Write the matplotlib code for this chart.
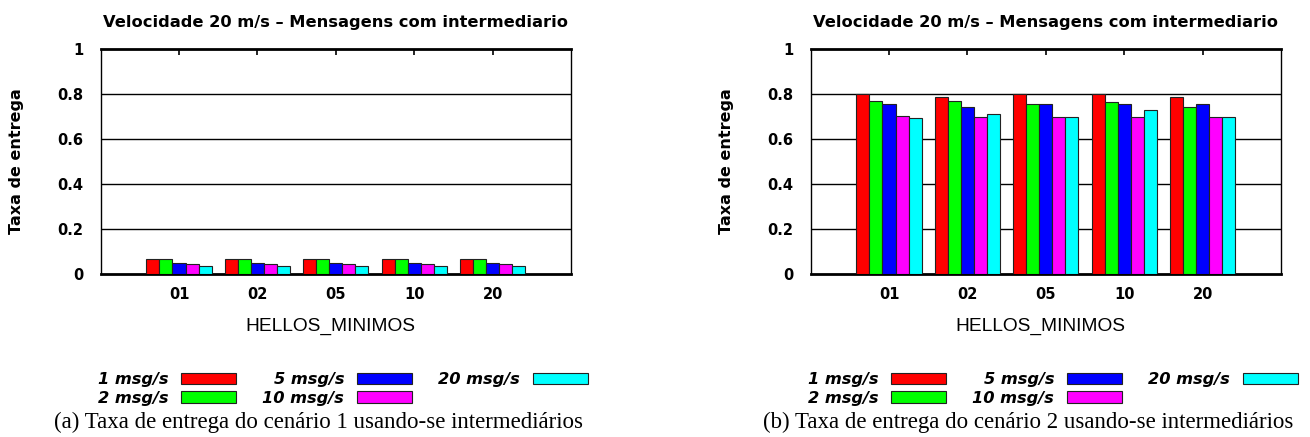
import matplotlib
matplotlib.use("Agg")
import matplotlib.pyplot as plt
import numpy as np

categories = ["01", "02", "05", "10", "20"]
series_labels = ["1 msg/s", "2 msg/s", "5 msg/s", "10 msg/s", "20 msg/s"]
colors = ["#ff0000", "#00ff00", "#0000ff", "#ff00ff", "#00ffff"]

# scenario 1 (left) : one list per series, values per category
s1_1 = [0.066, 0.066, 0.066, 0.066, 0.066]
s1_2 = [0.066, 0.066, 0.066, 0.066, 0.066]
s1_5 = [0.051, 0.051, 0.051, 0.051, 0.051]
s1_10 = [0.043, 0.043, 0.043, 0.043, 0.043]
s1_20 = [0.035, 0.035, 0.035, 0.035, 0.035]

# scenario 2 (right)
s2_1 = [0.798, 0.786, 0.798, 0.798, 0.786]
s2_2 = [0.771, 0.771, 0.756, 0.765, 0.741]
s2_5 = [0.756, 0.741, 0.756, 0.756, 0.756]
s2_10 = [0.702, 0.700, 0.700, 0.700, 0.700]
s2_20 = [0.695, 0.710, 0.700, 0.727, 0.700]

title = "Velocidade 20 m/s \u2013 Mensagens com intermediario"
ylabel = "Taxa de entrega"
xlabel = "HELLOS_MINIMOS"
captions = ["(a) Taxa de entrega do cen\u00e1rio 1 usando-se intermedi\u00e1rios",
            "(b) Taxa de entrega do cen\u00e1rio 2 usando-se intermedi\u00e1rios"]

W, H = 1310, 437
fig = plt.figure(figsize=(W / 100, H / 100), dpi=100)

FX0, FX1 = 100.6, 571.0   # frame left/right (px) of the first panel
FY1, FY0 = 49.0, 274.0    # frame top / bottom (px)
OFFSET = 710.0            # horizontal shift of the second panel


def fx(px):
    return px / W


def fy(py):
    return 1 - py / H


def draw(dx, series, caption):
    ax = fig.add_axes([fx(FX0 + dx), fy(FY0), (FX1 - FX0) / W, (FY0 - FY1) / H])
    x = np.arange(len(categories))
    bw = 1.0 / 6
    handles = []
    for i, vals in enumerate(series):
        offs = (i - 2) * bw
        b = ax.bar(x + offs, vals, width=bw, color=colors[i], edgecolor="#222222",
                   linewidth=0.8, zorder=3, label=series_labels[i])
        handles.append(b)
    ax.set_xlim(-1, 5)
    ax.set_ylim(0, 1)
    ax.set_yticks([0, 0.2, 0.4, 0.6, 0.8, 1])
    ax.set_yticklabels(["0", "0.2", "0.4", "0.6", "0.8", "1"])
    ax.set_xticks(x)
    ax.set_xticklabels(categories)
    for yv in [0.2, 0.4, 0.6, 0.8]:
        ax.axhline(yv, color="black", linewidth=1.0, zorder=1)
    ax.tick_params(axis="x", direction="in", top=True, bottom=False, length=4,
                   width=1.2, pad=9.5, labelsize=10.5)
    ax.tick_params(axis="y", direction="in", left=False, right=False, length=0,
                   pad=12.5, labelsize=10.5)
    for lbl in ax.get_xticklabels() + ax.get_yticklabels():
        lbl.set_fontweight("bold")
        lbl.set_family("DejaVu Sans")
    for s in ["left", "right"]:
        ax.spines[s].set_linewidth(1.0)
    for s in ["top", "bottom"]:
        ax.spines[s].set_linewidth(2.0)

    cx = (FX0 + FX1) / 2 + dx
    fig.text(fx(cx), fy(22), title, ha="center", va="center",
             fontsize=11.7, fontweight="bold")
    fig.text(fx(16.5 + dx), fy((FY0 + FY1) / 2), ylabel, rotation=90,
             ha="center", va="center", fontsize=11.5, fontweight="bold")
    fig.text(fx(330 + dx), fy(326), xlabel, ha="center", va="center",
             fontsize=13.8, family="Liberation Sans")
    fig.legend(handles=handles, labels=series_labels, ncol=3,
               loc="center", bbox_to_anchor=(fx(343 + dx), fy(389)),
               markerfirst=False, frameon=False, handlelength=3.4,
               handleheight=0.7, columnspacing=1.6, labelspacing=0.2,
               handletextpad=0.8, borderpad=0, borderaxespad=0,
               prop={"size": 11.7, "weight": "bold", "style": "italic"})
    fig.text(fx(318 + dx), fy(422), caption, ha="center", va="center",
             fontsize=16.5, family="Liberation Serif")
    return ax


draw(0.0, [s1_1, s1_2, s1_5, s1_10, s1_20], captions[0])
draw(OFFSET, [s2_1, s2_2, s2_5, s2_10, s2_20], captions[1])

fig.savefig("out.png", dpi=100)
